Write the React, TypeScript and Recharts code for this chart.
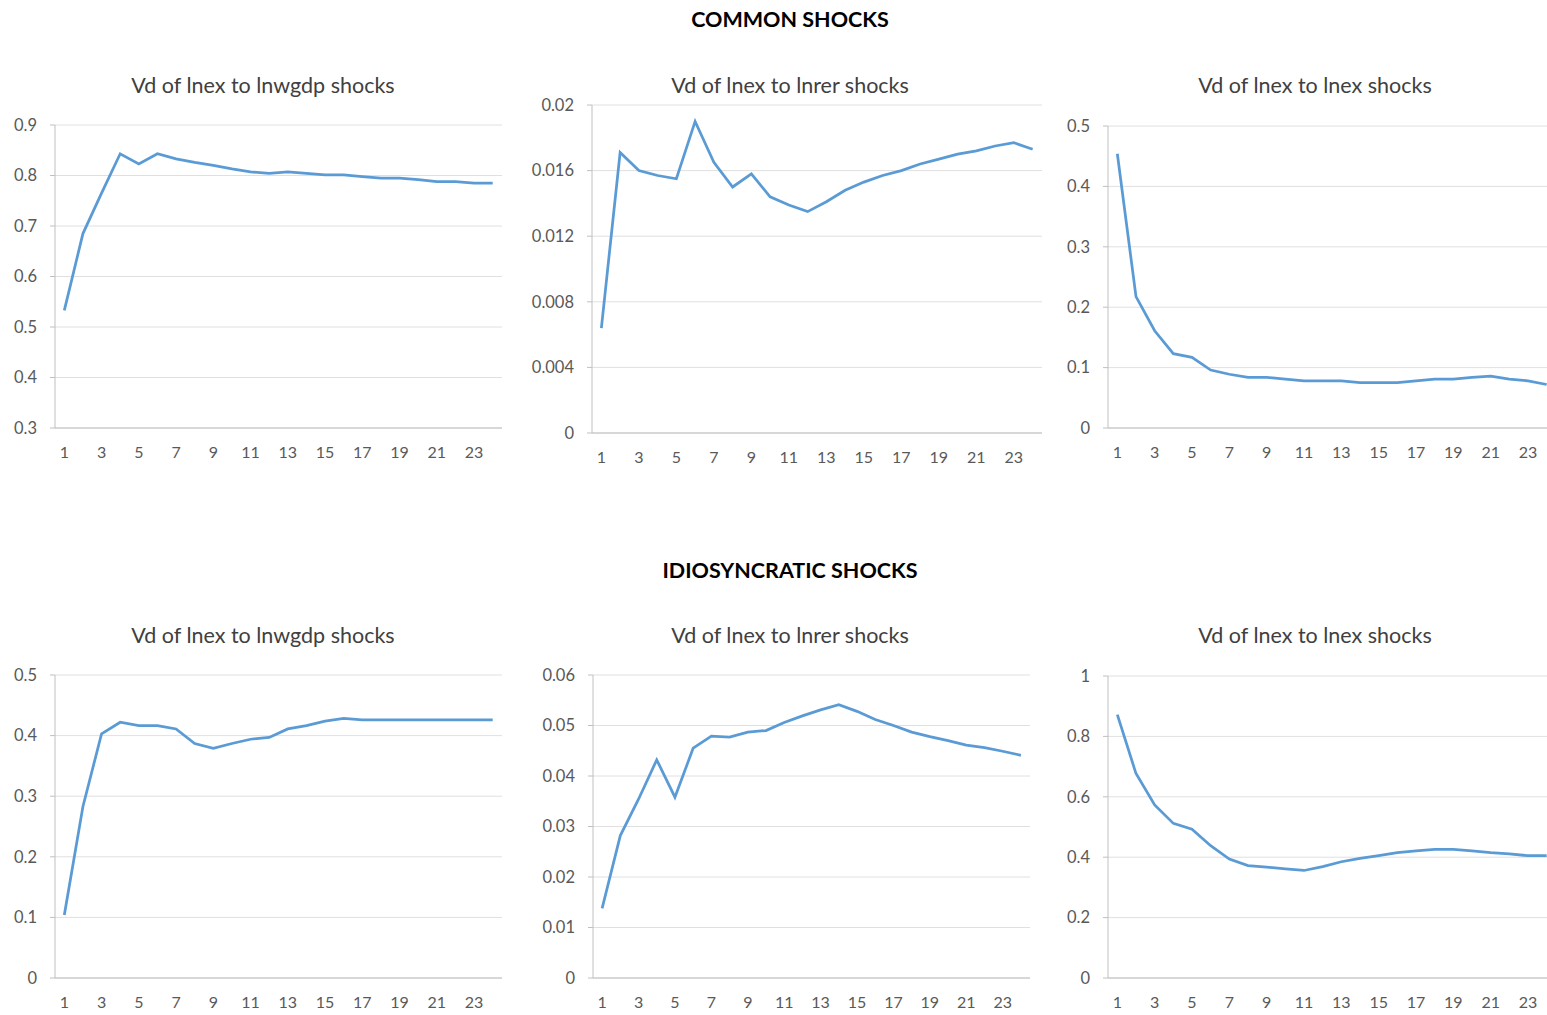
import React from 'react';
import { LineChart, Line, XAxis, YAxis, CartesianGrid } from 'recharts';

const periods = Array.from({ length: 24 }, (_, i) => i + 1);
const xTicks = [1, 3, 5, 7, 9, 11, 13, 15, 17, 19, 21, 23];

// common shocks
const commonGdp = [0.533, 0.685, 0.765, 0.843, 0.823, 0.843, 0.833, 0.826, 0.82, 0.813, 0.807, 0.804,
  0.807, 0.804, 0.801, 0.801, 0.798, 0.795, 0.795, 0.792, 0.788, 0.788, 0.785, 0.785];
const commonRer = [0.0064, 0.0171, 0.016, 0.0157, 0.0155, 0.019, 0.0165, 0.015, 0.0158, 0.0144, 0.0139, 0.0135,
  0.0141, 0.0148, 0.0153, 0.0157, 0.016, 0.0164, 0.0167, 0.017, 0.0172, 0.0175, 0.0177, 0.0173];
const commonEx = [0.454, 0.2175, 0.161, 0.123, 0.117, 0.096, 0.089, 0.084, 0.084, 0.081, 0.078, 0.078,
  0.078, 0.075, 0.075, 0.075, 0.078, 0.081, 0.081, 0.084, 0.086, 0.081, 0.078, 0.072];

// idiosyncratic shocks
const idioGdp = [0.104, 0.283, 0.403, 0.422, 0.4165, 0.4165, 0.411, 0.387, 0.379, 0.387, 0.394, 0.397,
  0.411, 0.4165, 0.424, 0.4286, 0.426, 0.426, 0.426, 0.426, 0.426, 0.426, 0.426, 0.426];
const idioRer = [0.0138, 0.0282, 0.0354, 0.0432, 0.0358, 0.0455, 0.0479, 0.0477, 0.0487, 0.049, 0.0506, 0.0519,
  0.0531, 0.0541, 0.0528, 0.0512, 0.05, 0.0487, 0.0478, 0.047, 0.0461, 0.0456, 0.0449, 0.0441];
const idioEx = [0.872, 0.677, 0.573, 0.512, 0.493, 0.438, 0.394, 0.372, 0.367, 0.361, 0.356, 0.369,
  0.385, 0.396, 0.405, 0.415, 0.421, 0.426, 0.426, 0.421, 0.415, 0.411, 0.405, 0.405];

const FONT = 'Lato, "Open Sans", sans-serif';
const LINE = '#5B9BD5';

const fmt = (v: number) => String(+v.toFixed(4));

interface PanelProps {
  title: string;
  values: number[];
  titleX: number;
  titleY: number;
  box: { l: number; t: number; r: number; b: number };
  domain: [number, number];
  yTicks: number[];
}

const Panel: React.FC<PanelProps> = ({ title, values, titleX, titleY, box, domain, yTicks }) => {
  const data = periods.map((p, i) => ({ p, v: values[i] }));
  const yw = 60;
  const mt = 10;
  const xh = 34;
  const w = box.r - box.l + yw + 2;
  const h = box.b - box.t + mt + xh;
  return (
    <>
      <div style={{
        position: 'absolute', left: titleX - 250, width: 500, top: titleY - 13, lineHeight: '26px',
        textAlign: 'center', fontSize: 21.5, color: '#404040', fontFamily: FONT
      }}>{title}</div>
      <div style={{ position: 'absolute', left: box.l - yw, top: box.t - mt, width: w, height: h }}>
        <LineChart width={w} height={h} data={data} margin={{ top: mt, right: 2, left: 0, bottom: 0 }}>
          <CartesianGrid vertical={false} stroke="#e0e0e0" />
          <XAxis dataKey="p" type="number" domain={[0.5, 24.5]} ticks={xTicks} height={xh}
            axisLine={{ stroke: '#c0c0c0' }} tickLine={false} tickSize={0} tickMargin={19}
            tick={{ fill: '#595959', fontSize: 16, fontFamily: FONT }} interval={0} allowDataOverflow />
          <YAxis type="number" domain={domain} ticks={yTicks} width={yw} tickFormatter={fmt}
            axisLine={{ stroke: '#c0c0c0' }} tickLine={{ stroke: '#c0c0c0' }} tickSize={5} tickMargin={13}
            tick={{ fill: '#595959', fontSize: 16.5, fontFamily: FONT }} interval={0} allowDataOverflow />
          <Line type="linear" dataKey="v" stroke={LINE} strokeWidth={2.75} dot={false} isAnimationActive={false} />
        </LineChart>
      </div>
    </>
  );
};

const heading: React.CSSProperties = {
  position: 'absolute', left: 540, width: 500, textAlign: 'center', fontSize: 21.5, lineHeight: '26px',
  fontWeight: 700, color: '#000', fontFamily: FONT
};

export default function App() {
  return (
    <>
      <style>{'html, body { margin: 0; padding: 0; overflow: hidden; }'}</style>
      <div style={{ position: 'relative', width: 1547, height: 1015, overflow: 'hidden', background: '#fff' }}>
        <div style={{ ...heading, top: 6 }}>COMMON SHOCKS</div>
        <div style={{ ...heading, top: 557 }}>IDIOSYNCRATIC SHOCKS</div>

        <Panel title="Vd of lnex to lnwgdp shocks" values={commonGdp} titleX={263} titleY={85}
          box={{ l: 55, t: 125, r: 502, b: 428 }} domain={[0.3, 0.9]} yTicks={[0.3, 0.4, 0.5, 0.6, 0.7, 0.8, 0.9]} />
        <Panel title="Vd of lnex to lnrer shocks" values={commonRer} titleX={790} titleY={85}
          box={{ l: 592, t: 105, r: 1042, b: 433 }} domain={[0, 0.02]} yTicks={[0, 0.004, 0.008, 0.012, 0.016, 0.02]} />
        <Panel title="Vd of lnex to lnex shocks" values={commonEx} titleX={1315} titleY={85}
          box={{ l: 1108, t: 126, r: 1556, b: 428 }} domain={[0, 0.5]} yTicks={[0, 0.1, 0.2, 0.3, 0.4, 0.5]} />

        <Panel title="Vd of lnex to lnwgdp shocks" values={idioGdp} titleX={263} titleY={635}
          box={{ l: 55, t: 675, r: 502, b: 978 }} domain={[0, 0.5]} yTicks={[0, 0.1, 0.2, 0.3, 0.4, 0.5]} />
        <Panel title="Vd of lnex to lnrer shocks" values={idioRer} titleX={790} titleY={635}
          box={{ l: 593, t: 675, r: 1030, b: 978 }} domain={[0, 0.06]} yTicks={[0, 0.01, 0.02, 0.03, 0.04, 0.05, 0.06]} />
        <Panel title="Vd of lnex to lnex shocks" values={idioEx} titleX={1315} titleY={635}
          box={{ l: 1108, t: 676, r: 1556, b: 978 }} domain={[0, 1]} yTicks={[0, 0.2, 0.4, 0.6, 0.8, 1]} />
      </div>
    </>
  );
}
